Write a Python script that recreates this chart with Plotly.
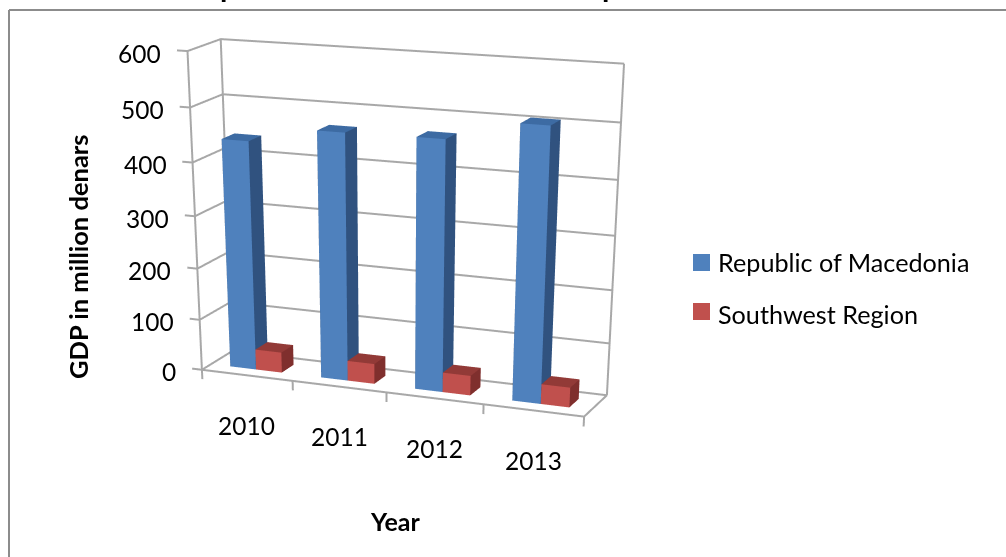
import plotly.graph_objects as go

years = ["2010", "2011", "2012", "2013"]
macedonia = [438, 467, 469, 506]
southwest = [40, 39, 38, 38]
z_ticks = [0, 100, 200, 300, 400, 500, 600]
series_names = ["Republic of Macedonia", "Southwest Region"]
xr = (-0.15, 4.05)
yr = (-0.05, 1.05)
zr = (-25, 610)

# The scene is taller than the window so that the 45 degree lens gives the long, gentle perspective of the reference.
CX = 326.0
CY = 899.9821
W = 1006
H = 2 * CY

FACES = [(0,1,5),(0,5,4),(1,2,6),(1,6,5),(4,5,6),(4,6,7),(2,3,7),(2,7,6),(3,0,4),(3,4,7),(0,2,1),(0,3,2)]
FACE_KIND = [0,0,1,1,2,2,1,1,1,1,0,0]


def mesh(vals, off, name, front, side, top):
    X = []; Y = []; Z = []; I = []; J = []; K = []; C = []
    w = 1 / 3.5
    pal = [front, side, top]
    for n, v in enumerate(vals):
        x0 = n + 0.75 / 3.5 + off * w
        x1 = x0 + w
        b = len(X)
        X += [x0, x1, x1, x0, x0, x1, x1, x0]
        Y += [.3, .3, .7, .7, .3, .3, .7, .7]
        Z += [0, 0, 0, 0, v, v, v, v]
        for q, (a, bb, cc) in enumerate(FACES):
            I.append(a + b); J.append(bb + b); K.append(cc + b); C.append(pal[FACE_KIND[q]])
    return go.Mesh3d(x=X, y=Y, z=Z, i=I, j=J, k=K, facecolor=C, flatshading=True, name=name, showlegend=False,
                     lighting=dict(ambient=1, diffuse=0, specular=0, fresnel=0, roughness=1), hoverinfo="skip")


GRID = "#a8a8a8"
gx = []; gy = []; gz = []
for v in z_ticks:
    gx += [-0.11, 0, 0, 4, None]; gy += [0, 0, 1, 1, None]; gz += [v, v, v, v, None]
gx += [0, 0, None, 4, 4, None, 0, 0, None, 4, 0, None, 4, 4, None]
gy += [0, 0, None, 1, 1, None, 1, 1, None, 0, 0, None, 0, 1, None]
gz += [0, 600, None, 0, 600, None, 0, 600, None, 0, 0, None, 0, 0, None]
for n in range(5):
    gx += [n, n, None]; gy += [0, 0, None]; gz += [0, -19, None]
lines3 = go.Scatter3d(x=gx, y=gy, z=gz, mode="lines", line=dict(color=GRID, width=4), showlegend=False, hoverinfo="skip")

BLUE = "#4F81BD"
RED = "#C0504D"
fig = go.Figure([lines3,
                 mesh(macedonia, 0, series_names[0], BLUE, "#30527F", "#3D6BA3"),
                 mesh(southwest, 1, series_names[1], RED, "#7F2F2D", "#923A37")])

FONT = "Lato"
BLACK = "#000"
hidden = dict(visible=False)
sa = [dict(x=0, y=0, z=v, text=str(v), showarrow=False, xanchor="right", xshift=-24, yshift=-2,
           font=dict(family=FONT, size=24.5, color=BLACK)) for v in z_ticks]
sa += [dict(x=n + .5, y=0, z=0, text=y, showarrow=False, yshift=-50,
            font=dict(family=FONT, size=24.5, color=BLACK)) for n, y in enumerate(years)]


def px(x):
    return x / W


def py(y):
    return 1 - y / H


def note(text, x, y, **k):
    k.setdefault("font", dict(family=FONT, size=25, color=BLACK))
    k.setdefault("xanchor", "center")
    k.setdefault("yanchor", "middle")
    return dict(text=text, xref="paper", yref="paper", x=px(x), y=py(y), showarrow=False, **k)


fig.update_layout(
    width=W, height=H, paper_bgcolor="white", margin=dict(l=0, r=0, t=0, b=0), showlegend=False,
    scene=dict(domain=dict(x=[0, 2 * CX / W], y=[1 - 2 * CY / H, 1]), aspectmode="manual",
               aspectratio=dict(x=1, y=0.18050, z=0.75761),
               xaxis=dict(range=list(xr), **hidden), yaxis=dict(range=list(yr), **hidden), zaxis=dict(range=list(zr), **hidden),
               camera=dict(eye=dict(x=1.91338, y=-4.59372, z=1.19787), center=dict(x=1.56713, y=-3.84180, z=0.70708),
                           up=dict(x=-1.51082, y=3.39899, z=1), projection=dict(type="perspective")),
               annotations=sa),
    annotations=[
        note("<b>GDP in million denars</b>", 78, 257, textangle=-90, font=dict(family=FONT, size=25.5, color=BLACK)),
        note("<b>Year</b>", 395, 521),
        note(series_names[0], 716, 262, xanchor="left", font=dict(family=FONT, size=25.2, color=BLACK)),
        note(series_names[1], 716, 314, xanchor="left", font=dict(family=FONT, size=25.2, color=BLACK)),
        note("<b>p</b>", 218, 5, xanchor="left", yanchor="bottom", font=dict(family=FONT, size=30, color=BLACK)),
        note("<b>p</b>", 600, 5, xanchor="left", yanchor="bottom", font=dict(family=FONT, size=30, color=BLACK)),
    ],
    shapes=[
        dict(type="line", xref="paper", yref="paper", x0=px(9), x1=1, y0=py(10), y1=py(10), line=dict(color="#8c8c8c", width=2)),
        dict(type="line", xref="paper", yref="paper", x0=px(9), x1=px(9), y0=0, y1=py(10), line=dict(color="#8c8c8c", width=2)),
        dict(type="rect", xref="paper", yref="paper", x0=px(693), x1=px(710), y0=py(254), y1=py(271), fillcolor=BLUE, line_width=0),
        dict(type="rect", xref="paper", yref="paper", x0=px(693), x1=px(710), y0=py(303), y1=py(320), fillcolor=RED, line_width=0),
    ],
)
fig.write_html("out.html", config=dict(displayModeBar=False),
               post_script="document.body.style.margin='0';document.body.style.overflow='hidden';document.documentElement.style.overflow='hidden';")
